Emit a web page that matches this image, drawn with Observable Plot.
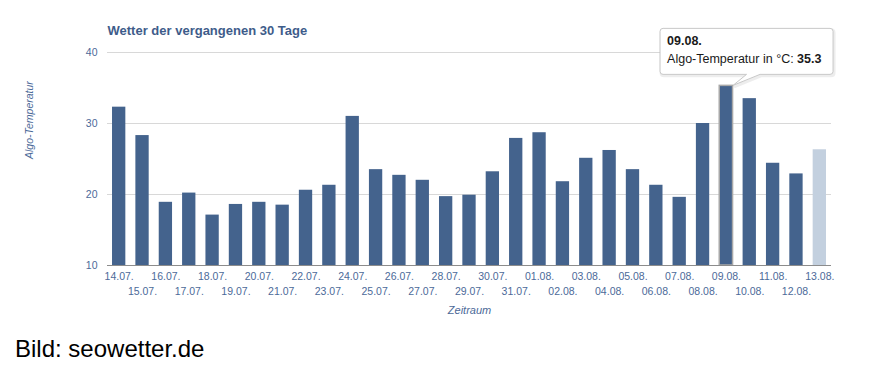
<!DOCTYPE html>
<html><head><meta charset="utf-8">
<script src="https://cdn.jsdelivr.net/npm/d3@7"></script>
<script src="https://cdn.jsdelivr.net/npm/@observablehq/plot@0.6"></script>
<style>
html,body{margin:0;padding:0;background:#fff;}
#wrap{position:relative;width:880px;height:380px;overflow:hidden;font-family:"Liberation Sans",Arial,sans-serif;}
#chart svg{display:block;}
#caption{position:absolute;left:15px;top:335px;font-size:24px;line-height:28px;color:#000;white-space:nowrap;}
</style></head><body>
<div id="wrap"><div id="chart"></div><div id="caption"></div></div>
<script>
const title = "Wetter der vergangenen 30 Tage";
const yLabel = "Algo-Temperatur";
const xLabel = "Zeitraum";
const caption = "Bild: seowetter.de";
const dates = ["14.07.","15.07.","16.07.","17.07.","18.07.","19.07.","20.07.","21.07.","22.07.","23.07.",
  "24.07.","25.07.","26.07.","27.07.","28.07.","29.07.","30.07.","31.07.","01.08.","02.08.",
  "03.08.","04.08.","05.08.","06.08.","07.08.","08.08.","09.08.","10.08.","11.08.","12.08.","13.08."];
const temps = [32.3,28.3,18.9,20.2,17.1,18.6,18.9,18.5,20.6,21.3,
  31.0,23.5,22.7,22.0,19.7,19.9,23.2,27.9,28.7,21.8,
  25.1,26.2,23.5,21.3,19.6,30.0,35.3,33.5,24.4,22.9,26.3];
const yTicks = [10,20,30,40];
const gridTicks = [20,30,40];
const highlightDate = "09.08.";
const tooltipLabel = "Algo-Temperatur in °C: ";

const FONT = '"Liberation Sans", Arial, sans-serif';
const dark = "#44638d", light = "#c3d0df", textBlue = "#4c6a99", titleBlue = "#3e5c8a";

const data = dates.map((d, i) => ({date: d, temp: temps[i]}));
const lastDate = dates[dates.length - 1];
const evenDates = dates.filter((d, i) => i % 2 === 0);
const oddDates = dates.filter((d, i) => i % 2 === 1);

function tooltipMark(index, scales, values, dimensions, context) {
  const i = dates.indexOf(highlightDate);
  const v = temps[i];
  const px = scales.x(highlightDate) + scales.x.bandwidth();
  const py = scales.y(v);
  const g = d3.create("svg:g")
    .attr("transform", `translate(${px},${py})`)
    .attr("font-family", FONT)
    .attr("font-size", 12.5)
    .attr("text-anchor", "start");
  const L = -72.5, R = 100.5, T = -57, B = -11, r = 3, p1 = 14, p2 = 27.5;
  const path = `M${L+r},${T} H${R-r} Q${R},${T} ${R},${T+r} V${B-r} Q${R},${B} ${R-r},${B} H${p2} L0.5,0 L${p1},${B} H${L+r} Q${L},${B} ${L},${B-r} V${T+r} Q${L},${T} ${L+r},${T} Z`;
  g.append("path").attr("d", path).attr("transform", "translate(1,1.5)")
    .attr("fill", "none").attr("stroke", "rgba(0,0,0,0.07)").attr("stroke-width", 3);
  g.append("path").attr("d", path).attr("fill", "#fff").attr("stroke", "#c8c8c8").attr("stroke-width", 1);
  g.append("text").attr("x", -65.5).attr("y", -40.4).attr("fill", "#1a1a1a")
    .attr("text-anchor", "start").attr("font-weight", "bold").text(highlightDate);
  const t2 = g.append("text").attr("x", -65.5).attr("y", -22.4).attr("fill", "#1a1a1a").attr("text-anchor", "start");
  t2.append("tspan").text(tooltipLabel);
  t2.append("tspan").attr("font-weight", "bold").text(v.toFixed(1));
  return g.node();
}

const chart = Plot.plot({
  width: 880, height: 330,
  marginLeft: 107, marginRight: 49, marginTop: 52, marginBottom: 65,
  style: {fontFamily: FONT, fontSize: "10.5px", color: textBlue, background: "#fff"},
  x: {type: "band", domain: dates, paddingInner: 0.43, paddingOuter: 0.215, round: false, axis: null},
  y: {domain: [10, 40], axis: null},
  color: {type: "identity"},
  marks: [
    Plot.gridY(gridTicks, {stroke: "#d8d8d8", strokeOpacity: 1}),
    Plot.barY(data, {x: "date", y1: () => 10, y2: "temp", fill: d => d.date === lastDate ? light : dark}),
    Plot.barY(data.filter(d => d.date === highlightDate), {x: "date", y1: () => 10, y2: "temp", fill: "none", stroke: "#a8a8a8", strokeWidth: 1.5}),
    Plot.ruleY([10], {stroke: "#8c8c8c"}),
    Plot.axisY(yTicks, {tickSize: 0, tickPadding: 10, label: null, fill: textBlue}),
    Plot.axisX(evenDates, {tickSize: 0, tickPadding: 7.5, label: null, fill: textBlue}),
    Plot.axisX(oddDates, {tickSize: 0, tickPadding: 22.5, label: null, fill: textBlue}),
    Plot.text([yLabel], {frameAnchor: "left", dx: -78, rotate: -90, fontStyle: "italic", fontSize: 10.5, fill: textBlue}),
    Plot.text([xLabel], {frameAnchor: "bottom", dy: 48.5, fontStyle: "italic", fontSize: 11, fill: textBlue}),
    Plot.text([title], {frameAnchor: "top-left", textAnchor: "start", dy: -27.2, fontWeight: "bold", fontSize: 13, fill: titleBlue}),
    tooltipMark
  ]
});
document.getElementById("chart").append(chart);
document.getElementById("caption").textContent = caption;
</script>
</body></html>
